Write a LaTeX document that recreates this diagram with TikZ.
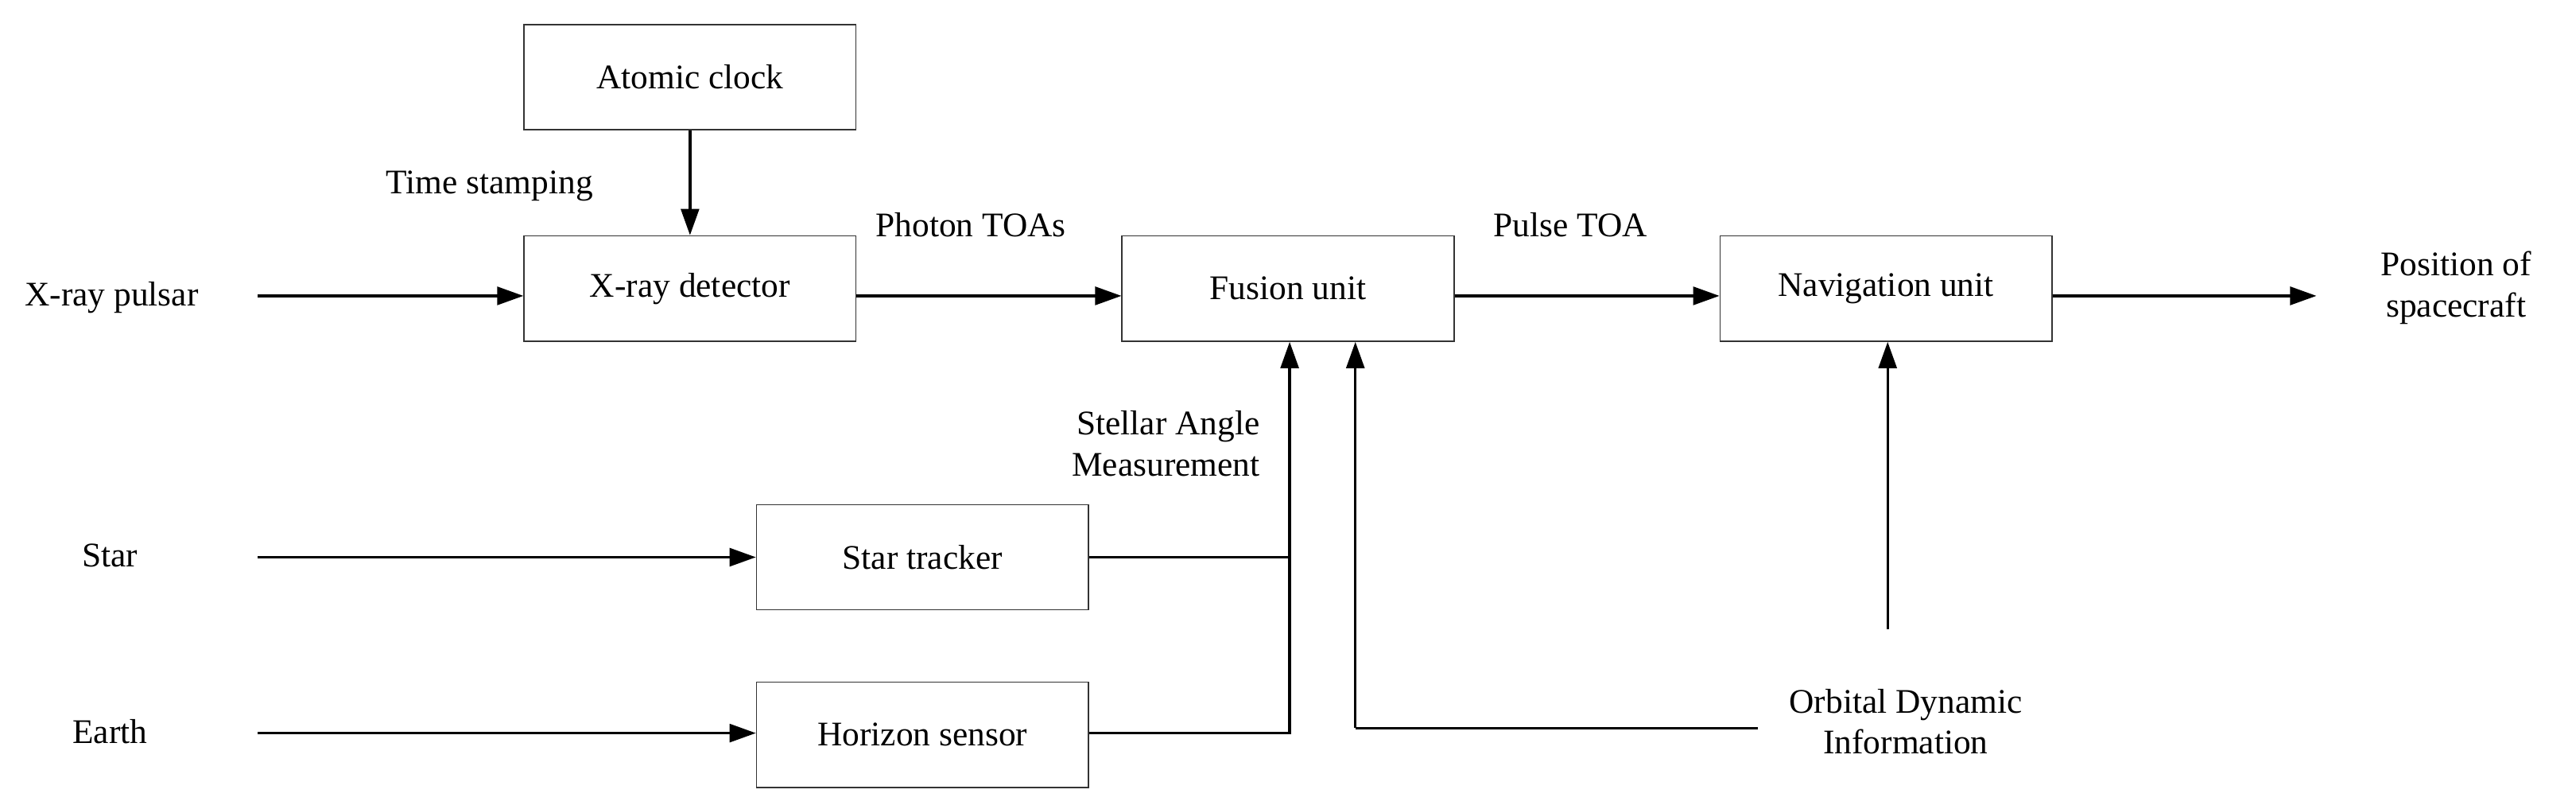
\documentclass[tikz,border=0pt]{standalone}
\usepackage{fontspec}
\setmainfont{Liberation Serif}
\usetikzlibrary{arrows.meta}
\begin{document}
\begin{tikzpicture}[x=1pt,y=-1pt,
 box/.style={draw=black!80,line width=0.8pt,minimum width=202pt,minimum height=64pt,inner sep=0pt,font=\fontsize{21}{25}\selectfont},
 lbl/.style={font=\fontsize{21}{25}\selectfont,inner sep=0pt,align=center},
 arr/.style={line width=1.6pt,-{Triangle[length=16pt,width=11pt]}},
 ln/.style={line width=1.6pt}]
\useasboundingbox (0,0) rectangle (1568,492);
\node[box] (clock) at (420,47) {Atomic clock};
\node[box] (det) at (420,175.5) {X-ray detector};
\node[box] (fus) at (784,175.5) {Fusion unit};
\node[box] (nav) at (1148,175.5) {Navigation unit};
\node[box] (st) at (561.5,339) {Star tracker};
\node[box] (hs) at (561.5,447) {Horizon sensor};
\node[lbl] (xp) at (68,181) {X-ray pulsar};
\node[lbl] (star) at (67,338) {Star};
\node[lbl] (earth) at (67,445) {Earth};
\node[lbl] (pos) at (1495,175) {Position of\\spacecraft};
\node[lbl] (ts) at (298,113) {Time stamping};
\node[lbl] (pt) at (591,137) {Photon TOAs};
\node[lbl] (pto) at (956,137) {Pulse TOA};
\node[lbl,align=right,anchor=east] (sam) at (767,270) {Stellar Angle\\Measurement};
\node[lbl] (odi) at (1160,439) {Orbital Dynamic\\Information};
\coordinate (xs) at (157,180);
\coordinate (ss) at (157,339);
\coordinate (es) at (157,446);
\coordinate (pe) at (1410,180);
\draw[arr] (xs) -- (det.west |- xs);
\draw[arr] (clock) -- (det);
\draw[arr] (det.east |- xs) -- (fus.west |- xs);
\draw[arr] (fus.east |- xs) -- (nav.west |- xs);
\draw[arr] (nav.east |- xs) -- (pe);
\draw[arr] (ss) -- (st.west |- ss);
\draw[arr] (es) -- (hs.west |- es);
\coordinate (j1) at (785,339);
\coordinate (j2) at (785,446);
\draw[ln] (st.east |- j1) -- (j1);
\draw[ln] (hs.east |- j2) -- (j2) -- (j1);
\draw[arr] (j1) -- (785,208);
\coordinate (o1) at (1070,443);
\coordinate (o2) at (825,443);
\draw[ln] (o1) -- (o2);
\draw[arr] (o2) -- (825,208);
\coordinate (n1) at (1149,383);
\draw[arr] (n1) -- (1149,208);
\end{tikzpicture}
\end{document}
